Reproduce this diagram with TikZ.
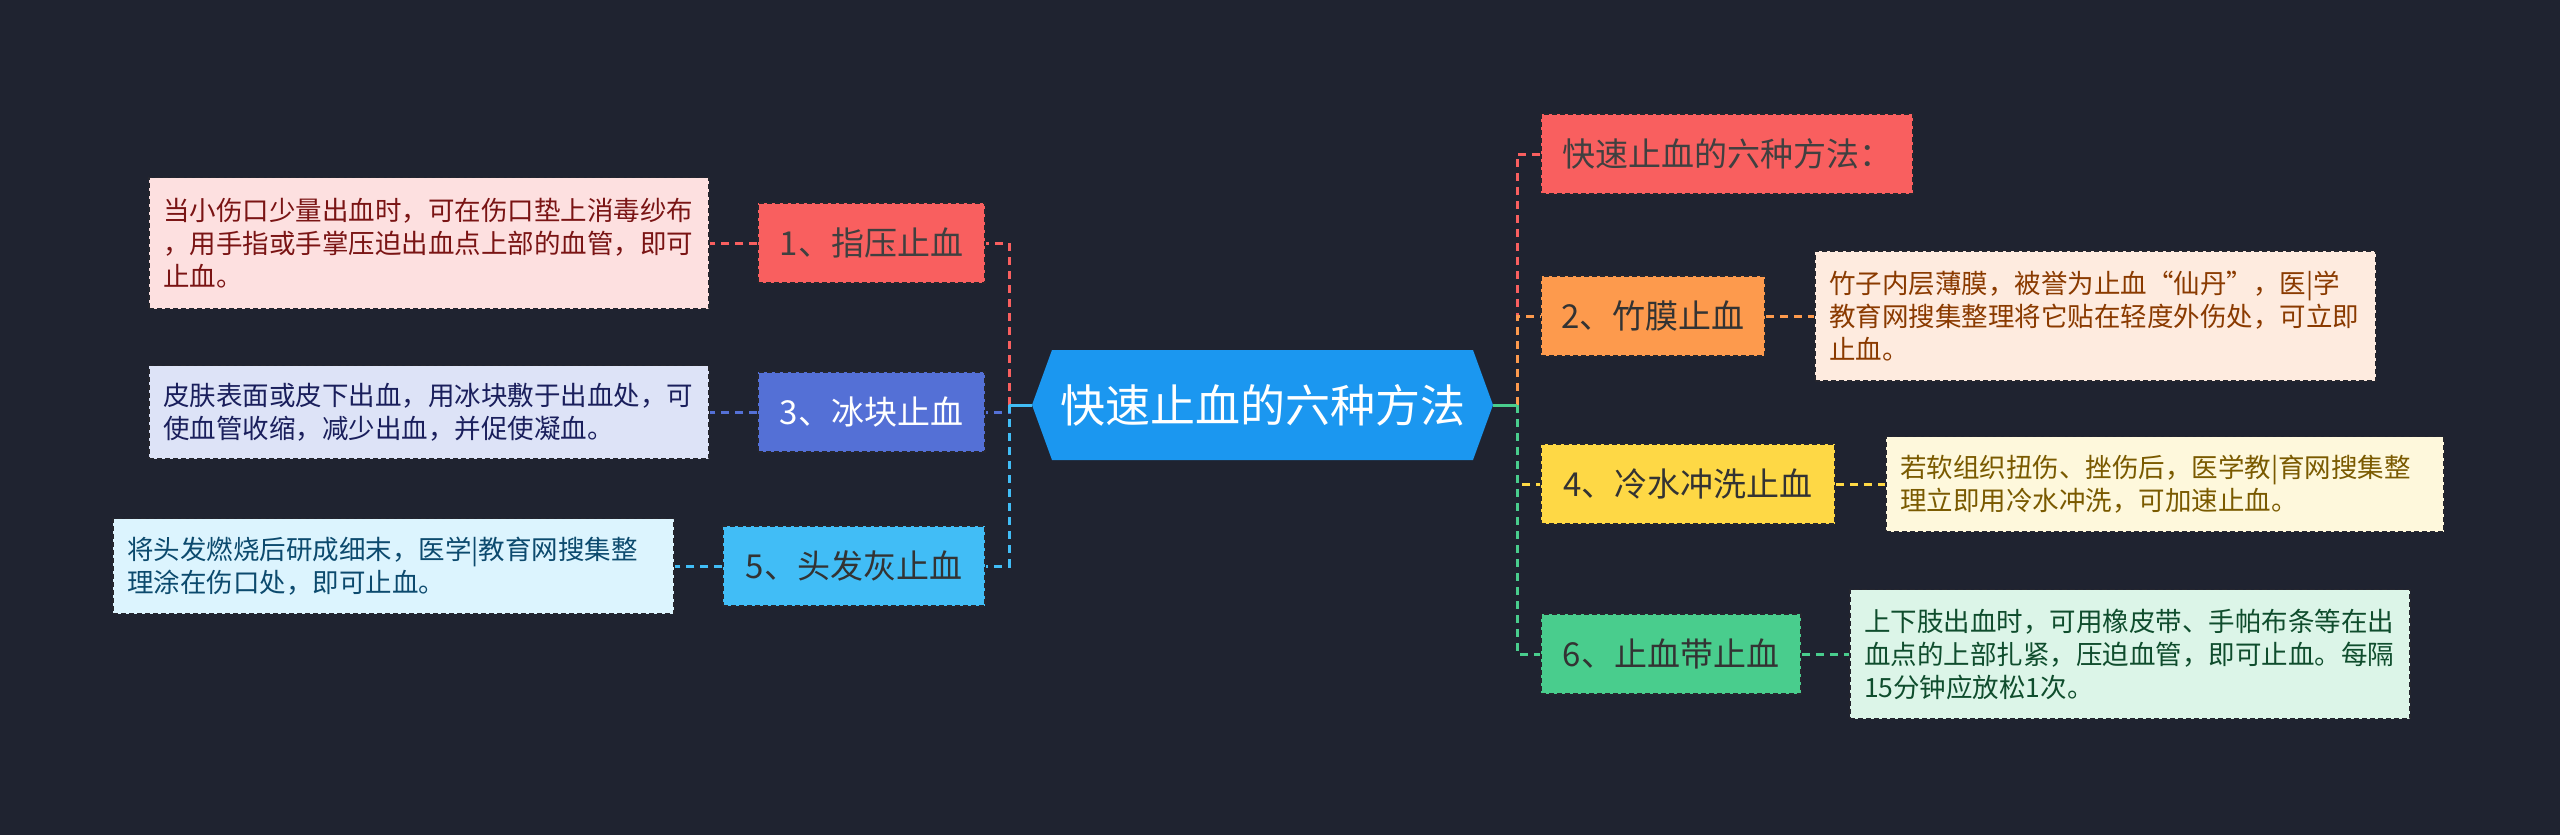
\documentclass[tikz,border=0pt]{standalone}
\usepackage{fontspec}
\setmainfont{Noto Sans CJK SC}
\definecolor{bg}{HTML}{1F2330}
\definecolor{cblue}{HTML}{1B97F0}
\definecolor{cred}{HTML}{F95F5F}
\definecolor{cviolet}{HTML}{5470D6}
\definecolor{clblue}{HTML}{41BDF6}
\definecolor{corange}{HTML}{FD9A4D}
\definecolor{cyellow}{HTML}{FED845}
\definecolor{cgreen}{HTML}{49CD8D}
\definecolor{lred}{HTML}{FDE0E0}
\definecolor{lviolet}{HTML}{DDE3F7}
\definecolor{llblue}{HTML}{DCF4FE}
\definecolor{lorange}{HTML}{FEEBDF}
\definecolor{lyellow}{HTML}{FEF8DC}
\definecolor{lgreen}{HTML}{DCF5E8}
\definecolor{tred}{HTML}{7A1414}
\definecolor{tviolet}{HTML}{1A1F5C}
\definecolor{tlblue}{HTML}{0C4A6E}
\definecolor{torange}{HTML}{8A3A00}
\definecolor{tyellow}{HTML}{7A5A00}
\definecolor{tgreen}{HTML}{0F4D2D}
\definecolor{bord}{HTML}{25262E}
\begin{document}
\begin{tikzpicture}[x=1pt,y=-1pt,
  kid/.style={draw=bord, dash pattern=on 5pt off 3pt, line width=1.5pt, inner sep=0pt,
    minimum height=80pt, font=\fontsize{33}{40}\selectfont},
  leaf/.style={draw=bord, dash pattern=on 5pt off 3pt, line width=1.5pt, inner xsep=14pt,
    inner ysep=0pt, align=left, font=\fontsize{26.5}{33}\selectfont},
  link/.style={dash pattern=on 8pt off 6pt, line width=3pt},
  stub/.style={line width=3pt}]
\fill[bg] (0,0) rectangle (2560,835);
\useasboundingbox (0,0) rectangle (2560,835);
% center
\fill[cblue] (1032,405) -- (1052,350) -- (1473,350) -- (1493,405) -- (1473,460) -- (1052,460) -- cycle;
\node[inner sep=0pt, minimum width=461pt, minimum height=110pt, text=white,
  font=\fontsize{45}{50}\selectfont] (c) at (1262.5,405) {快速止血的六种方法};
\coordinate (tl) at (1009,405);
\coordinate (tr) at (1517,405);
% left children
\node[kid, fill=cred, text=black!75, minimum width=227pt] (n1) at (871.5,243) {1、指压止血};
\node[kid, fill=cviolet, text=white, minimum width=227pt] (n3) at (871.5,412) {3、冰块止血};
\node[kid, fill=clblue, text=black!80, minimum width=262pt] (n5) at (854,566) {5、头发灰止血};
% right children
\node[kid, fill=cred, text=black!75, minimum width=372pt] (r0) at (1727,154) {快速止血的六种方法：};
\node[kid, fill=corange, text=black!80, minimum width=224pt] (r2) at (1653,316) {2、竹膜止血};
\node[kid, fill=cyellow, text=black!80, minimum width=294pt] (r4) at (1688,484) {4、冷水冲洗止血};
\node[kid, fill=cgreen, text=black!80, minimum width=260pt] (r6) at (1671,654) {6、止血带止血};
% leaves
\node[leaf, fill=lred, text=tred, text width=532pt, minimum height=131pt] (l1) at (429,243)
  {当小伤口少量出血时，可在伤口垫上消毒纱布\\，用手指或手掌压迫出血点上部的血管，即可\\止血。};
\node[leaf, fill=lviolet, text=tviolet, text width=532pt, minimum height=93pt] (l3) at (429,412)
  {皮肤表面或皮下出血，用冰块敷于出血处，可\\使血管收缩，减少出血，并促使凝血。};
\node[leaf, fill=llblue, text=tlblue, text width=533pt, minimum height=95pt] (l5) at (393.5,566)
  {将头发燃烧后研成细末，医学|教育网搜集整\\理涂在伤口处，即可止血。};
\node[leaf, fill=lorange, text=torange, text width=533pt, minimum height=130pt] (l2) at (2095.5,316)
  {竹子内层薄膜，被誉为止血“仙丹”，医|学\\教育网搜集整理将它贴在轻度外伤处，可立即\\止血。};
\node[leaf, fill=lyellow, text=tyellow, text width=530pt, minimum height=95pt] (l4) at (2165,484)
  {若软组织扭伤、挫伤后，医学教|育网搜集整\\理立即用冷水冲洗，可加速止血。};
\node[leaf, fill=lgreen, text=tgreen, text width=532pt, minimum height=129pt] (l6) at (2130,654)
  {上下肢出血时，可用橡皮带、手帕布条等在出\\血点的上部扎紧，压迫血管，即可止血。每隔\\15分钟应放松1次。};
% left connectors
\draw[link, cviolet] (tl) |- (n3.east);
\draw[link, cred] (tl) |- (n1.east);
\draw[link, clblue] (tl) |- (n5.east);
\draw[stub, clblue] (c.west) -- (tl);
% right connectors
\draw[link, cred] (tr) |- (r0.west);
\draw[link, corange] (tr) |- (r2.west);
\draw[link, cyellow] (tr) |- (r4.west);
\draw[link, cgreen] (tr) |- (r6.west);
\draw[stub, cgreen] (c.east) -- (tr);
% leaf connectors
\draw[link, cred] (n1.west) -- (l1.east);
\draw[link, cviolet] (n3.west) -- (l3.east);
\draw[link, clblue] (n5.west) -- (l5.east);
\draw[link, corange] (r2.east) -- (l2.west);
\draw[link, cyellow] (r4.east) -- (l4.west);
\draw[link, cgreen] (r6.east) -- (l6.west);
\end{tikzpicture}
\end{document}
